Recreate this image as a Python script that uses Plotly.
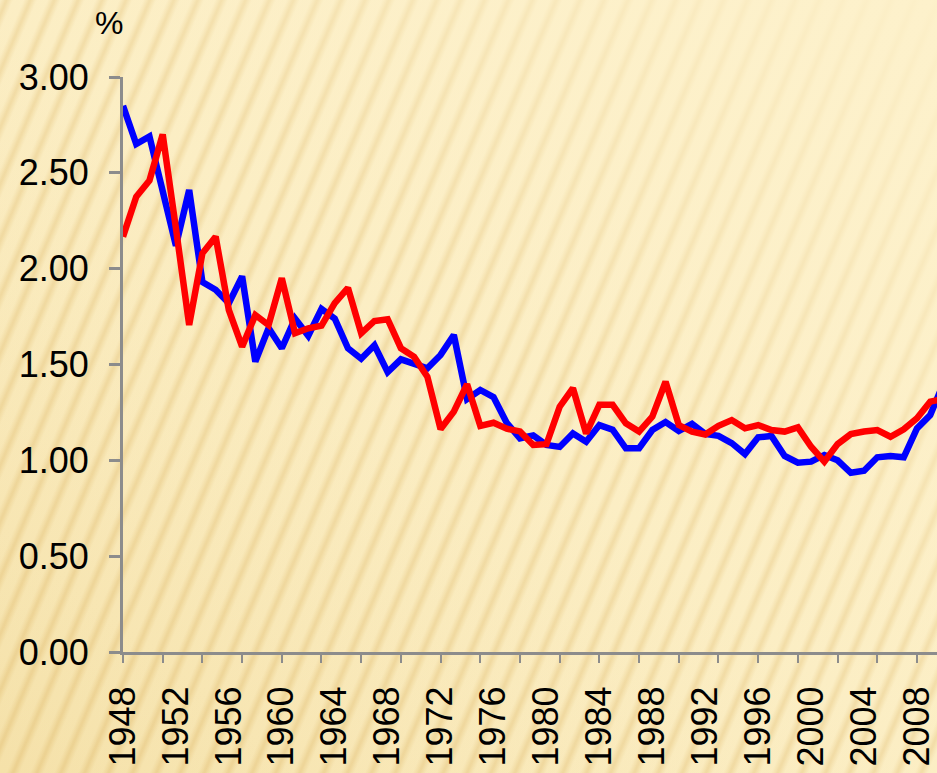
import base64
import plotly.graph_objects as go

years = list(range(1948, 2011))

blue_values = [2.85, 2.65, 2.69, 2.41, 2.12, 2.41, 1.93, 1.89, 1.82, 1.96,
               1.515, 1.69, 1.585, 1.74, 1.65, 1.79, 1.74, 1.585, 1.53, 1.60,
               1.46, 1.527, 1.506, 1.48, 1.55, 1.654, 1.32, 1.367, 1.33, 1.195,
               1.115, 1.13, 1.08, 1.07, 1.14, 1.097, 1.184, 1.16, 1.063, 1.063,
               1.158, 1.20, 1.153, 1.19, 1.138, 1.128, 1.09, 1.033, 1.12, 1.127,
               1.023, 0.988, 0.993, 1.028, 1.00, 0.935, 0.946, 1.016, 1.023, 1.016,
               1.167, 1.236, 1.40]

red_values = [2.167, 2.375, 2.46, 2.70, 2.21, 1.706, 2.08, 2.167, 1.784, 1.593,
              1.758, 1.706, 1.95, 1.663, 1.689, 1.703, 1.82, 1.90, 1.663, 1.727,
              1.736, 1.585, 1.54, 1.436, 1.163, 1.254, 1.397, 1.18, 1.196, 1.165,
              1.151, 1.08, 1.084, 1.28, 1.376, 1.14, 1.29, 1.29, 1.193, 1.15,
              1.228, 1.41, 1.184, 1.15, 1.135, 1.18, 1.21, 1.167, 1.184, 1.158,
              1.15, 1.172, 1.071, 0.993, 1.085, 1.137, 1.15, 1.158, 1.123, 1.162,
              1.22, 1.306, 1.32]

x_label_years = list(range(1948, 2009, 4))
x_label_text = [str(y) for y in x_label_years]
x_tick_years = list(range(1948, 2010, 3))
y_tick_values = [0.0, 0.5, 1.0, 1.5, 2.0, 2.5, 3.0]
y_tick_text = ["%.2f" % v for v in y_tick_values]
unit_label = "%"

W, H = 937, 773
ML, MT, MR, MB = 123, 77, 0, 121
PW, PH = W - ML - MR, H - MT - MB

svg = f"""<svg xmlns='http://www.w3.org/2000/svg' width='{W}' height='{H}'>
<defs>
<linearGradient id='bg' x1='0' y1='1' x2='1' y2='0'>
 <stop offset='0' stop-color='#F5E1A9'/>
 <stop offset='0.5' stop-color='#FBEDC2'/>
 <stop offset='1' stop-color='#FDF1CB'/>
</linearGradient>
<linearGradient id='st' x1='0' y1='0' x2='1' y2='0'>
 <stop offset='0' stop-color='#E2BF74' stop-opacity='0'/>
 <stop offset='0.5' stop-color='#E2BF74' stop-opacity='0.5'/>
 <stop offset='1' stop-color='#E2BF74' stop-opacity='0'/>
</linearGradient>
<pattern id='p' width='22' height='60' patternUnits='userSpaceOnUse' patternTransform='rotate(23)'>
 <rect x='0' y='0' width='12' height='60' fill='url(#st)'/>
</pattern>
<linearGradient id='fade' x1='0' y1='1' x2='1' y2='0'>
 <stop offset='0' stop-color='#FDF1CB' stop-opacity='0'/>
 <stop offset='0.55' stop-color='#FDF1CB' stop-opacity='0.25'/>
 <stop offset='1' stop-color='#FDF1CB' stop-opacity='0.95'/>
</linearGradient>
</defs>
<rect width='{W}' height='{H}' fill='url(#bg)'/>
<rect width='{W}' height='{H}' fill='url(#p)'/>
<rect width='{W}' height='{H}' fill='url(#fade)'/>
</svg>"""
bg_uri = "data:image/svg+xml;base64," + base64.b64encode(svg.encode()).decode()

FONT = "Liberation Sans, Arial, sans-serif"
GRAY = "#8C8C8C"
xr = [1948, 1948 + PW / 13.233]

fig = go.Figure()
fig.add_trace(go.Scatter(x=years, y=blue_values, mode="lines",
                         line=dict(color="#0000FF", width=6.5), showlegend=False,
                         xaxis="x", yaxis="y"))
fig.add_trace(go.Scatter(x=years, y=red_values, mode="lines",
                         line=dict(color="#FF0000", width=6.5), showlegend=False,
                         xaxis="x2", yaxis="y"))

fig.update_layout(
    width=W, height=H,
    margin=dict(l=ML, r=MR, t=MT, b=MB, autoexpand=False),
    paper_bgcolor="#FBEDC2",
    plot_bgcolor="rgba(0,0,0,0)",
    font=dict(family=FONT, color="black"),
    xaxis=dict(range=xr, tickmode="array", tickvals=x_label_years, ticktext=x_label_text,
               tickangle=-90, ticks="", showline=True, linecolor=GRAY, linewidth=3,
               showgrid=False, zeroline=False, tickfont=dict(size=36, family=FONT),
               ticklabelstandoff=17, automargin=False),
    xaxis2=dict(range=xr, overlaying="x", anchor="y", side="bottom", tickmode="array",
                tickvals=x_tick_years, showticklabels=False, ticks="outside", ticklen=10,
                tickwidth=2, tickcolor=GRAY, showline=False, showgrid=False, zeroline=False),
    yaxis=dict(range=[0, 3], tickmode="array", tickvals=y_tick_values, ticktext=y_tick_text,
               ticks="outside", ticklen=11, tickwidth=3, tickcolor=GRAY, showline=True,
               linecolor=GRAY, linewidth=3, showgrid=False, zeroline=False,
               tickfont=dict(size=36, family=FONT), ticklabelstandoff=13, automargin=False),
    images=[dict(source=bg_uri, xref="paper", yref="paper", x=-ML / PW, y=1 + MT / PH,
                 sizex=W / PW, sizey=H / PH, sizing="stretch", xanchor="left",
                 yanchor="top", layer="below")],
    annotations=[dict(text=unit_label, xref="paper", yref="paper", x=(109 - ML) / PW,
                      y=1 + (MT - 23) / PH, xanchor="center", yanchor="middle",
                      showarrow=False, font=dict(size=32, family=FONT, color="black"))],
)

fig.write_html("out.html", config={"displayModeBar": False},
               post_script="document.body.style.margin='0';document.body.style.overflow='hidden';")
